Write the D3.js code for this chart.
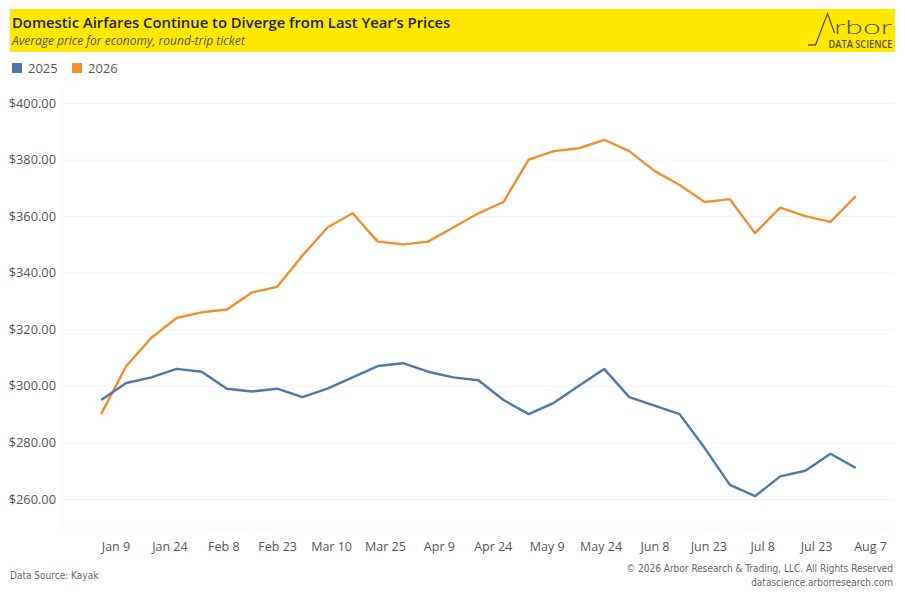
<!DOCTYPE html>
<html>
<head>
<meta charset="utf-8">
<script src="https://cdn.jsdelivr.net/npm/d3@7"></script>
<style>
  body { margin: 0; background: #fff; }
  svg { display: block; font-family: "Open Sans", "Noto Sans", sans-serif; }
</style>
</head>
<body>
<svg id="chart"></svg>
<script>
// weekly observations, first week starting Jan 5 2026
const startDate = "2026-01-05";
const weeks = 31;
const series2025 = [295, 301, 303, 306, 305, 299, 298, 299, 296, 299, 303, 307, 308, 305, 303, 302,
                    295, 290, 294, 300, 306, 296, 293, 290, 278, 265, 261, 268, 270, 276, 271];
const series2026 = [290, 307, 317, 324, 326, 327, 333, 335, 346, 356, 361, 351, 350, 351, 356, 361,
                    365, 380, 383, 384, 387, 383, 376, 371, 365, 366, 354, 363, 360, 358, 367];
const seriesNames = ["2025", "2026"];
const tickDates = ["2026-01-09", "2026-01-24", "2026-02-08", "2026-02-23", "2026-03-10", "2026-03-25",
                   "2026-04-09", "2026-04-24", "2026-05-09", "2026-05-24", "2026-06-08", "2026-06-23",
                   "2026-07-08", "2026-07-23", "2026-08-07"];
const yTicks = [260, 280, 300, 320, 340, 360, 380, 400];

const colors = {"2025": "#4e79a7", "2026": "#f28e2b"};

const W = 905, H = 603;
const svg = d3.select("#chart").attr("width", W).attr("height", H);

const parse = d3.timeParse("%Y-%m-%d");
const t0 = parse(startDate);
const dates = d3.range(weeks).map(i => d3.timeDay.offset(t0, i * 7));
const ticks = tickDates.map(parse);

const plot = {left: 62, right: 895, top: 88, bottom: 528};

const x = d3.scaleTime()
    .domain([ticks[0], ticks[ticks.length - 1]])
    .range([115.5, 870]);

const y = d3.scaleLinear()
    .domain([260, 400])
    .range([499, 103]);

// header band
svg.append("rect")
    .attr("x", 10).attr("y", 9).attr("width", 885).attr("height", 43)
    .attr("fill", "#ffe800");

svg.append("text")
    .attr("x", 12).attr("y", 28)
    .attr("font-size", 14.8).attr("font-weight", 600).attr("fill", "#222")
    .attr("font-family", "'Open Sans', sans-serif")
    .text("Domestic Airfares Continue to Diverge from Last Year’s Prices");

svg.append("text")
    .attr("x", 12).attr("y", 45)
    .attr("font-size", 12).attr("font-style", "italic").attr("fill", "#555")
    .text("Average price for economy, round-trip ticket");

// logo
const logoColor = "#54522f";
svg.append("path")
    .attr("d", "M808,45 L815.5,45 L827.5,13.5 L834.5,33")
    .attr("fill", "none").attr("stroke", logoColor).attr("stroke-width", 1.3);
svg.append("text")
    .attr("x", 834).attr("y", 33.5)
    .attr("font-size", 19).attr("font-weight", 300).attr("fill", logoColor)
    .attr("font-family", "Lato, sans-serif")
    .attr("textLength", 58).attr("lengthAdjust", "spacingAndGlyphs")
    .text("rbor");
svg.append("text")
    .attr("x", 828.5).attr("y", 47.5)
    .attr("font-size", 10).attr("font-weight", 600).attr("fill", logoColor)
    .attr("font-family", "'Open Sans', sans-serif")
    .attr("textLength", 64).attr("lengthAdjust", "spacingAndGlyphs")
    .text("DATA SCIENCE");

// legend
const legend = svg.append("g").selectAll("g")
    .data(seriesNames)
    .join("g")
    .attr("transform", (d, i) => `translate(${12 + i * 60},63)`);
legend.append("rect")
    .attr("width", 10).attr("height", 10)
    .attr("fill", d => colors[d]);
legend.append("text")
    .attr("x", 16).attr("y", 10)
    .attr("font-size", 13).attr("fill", "#555")
    .text(d => d);

// plot frame
svg.append("line")
    .attr("x1", plot.left).attr("x2", plot.left)
    .attr("y1", plot.top).attr("y2", plot.bottom)
    .attr("stroke", "#f4f4f4");
svg.append("line")
    .attr("x1", plot.left).attr("x2", plot.right)
    .attr("y1", plot.bottom).attr("y2", plot.bottom)
    .attr("stroke", "#f4f4f4");

// y axis with gridlines
const yAxisG = svg.append("g")
    .attr("transform", `translate(${plot.left},0)`)
    .call(d3.axisLeft(y)
        .tickValues(yTicks)
        .tickSize(-(plot.right - plot.left))
        .tickPadding(6)
        .tickFormat(d3.format("$,.2f")));
yAxisG.select(".domain").remove();
yAxisG.selectAll(".tick line").attr("stroke", "#f2f2f2");
yAxisG.selectAll(".tick text")
    .attr("font-size", 12.8).attr("fill", "#555")
    .attr("font-family", "'Open Sans', sans-serif");

// x axis
const xAxisG = svg.append("g")
    .attr("transform", `translate(0,${plot.bottom})`)
    .call(d3.axisBottom(x)
        .tickValues(ticks)
        .tickSize(0)
        .tickPadding(14)
        .tickFormat(d3.timeFormat("%b %-d")));
xAxisG.select(".domain").remove();
xAxisG.selectAll(".tick text")
    .attr("font-size", 12.5).attr("fill", "#555")
    .attr("font-family", "'Open Sans', sans-serif");

// lines
const line = d3.line()
    .x((d, i) => x(dates[i]))
    .y(d => y(d));

const lineData = [
    {name: "2026", values: series2026},
    {name: "2025", values: series2025}
];

svg.append("g").selectAll("path")
    .data(lineData)
    .join("path")
    .attr("d", d => line(d.values))
    .attr("fill", "none")
    .attr("stroke", d => colors[d.name])
    .attr("stroke-width", 2.4)
    .attr("stroke-linejoin", "round");

// footer
svg.append("text")
    .attr("x", 10).attr("y", 579)
    .attr("font-size", 10).attr("fill", "#666")
    .attr("font-family", "'DejaVu Sans Condensed', 'DejaVu Sans', sans-serif")
    .attr("font-stretch", "condensed")
    .text("Data Source: Kayak");

const footR = svg.append("g")
    .attr("font-size", 10).attr("fill", "#666")
    .attr("text-anchor", "end")
    .attr("font-family", "'DejaVu Sans Condensed', 'DejaVu Sans', sans-serif")
    .attr("font-stretch", "condensed");
footR.append("text").attr("x", 893).attr("y", 572)
    .text("© 2026 Arbor Research & Trading, LLC. All Rights Reserved");
footR.append("text").attr("x", 893).attr("y", 586)
    .text("datascience.arborresearch.com");
</script>
</body>
</html>
